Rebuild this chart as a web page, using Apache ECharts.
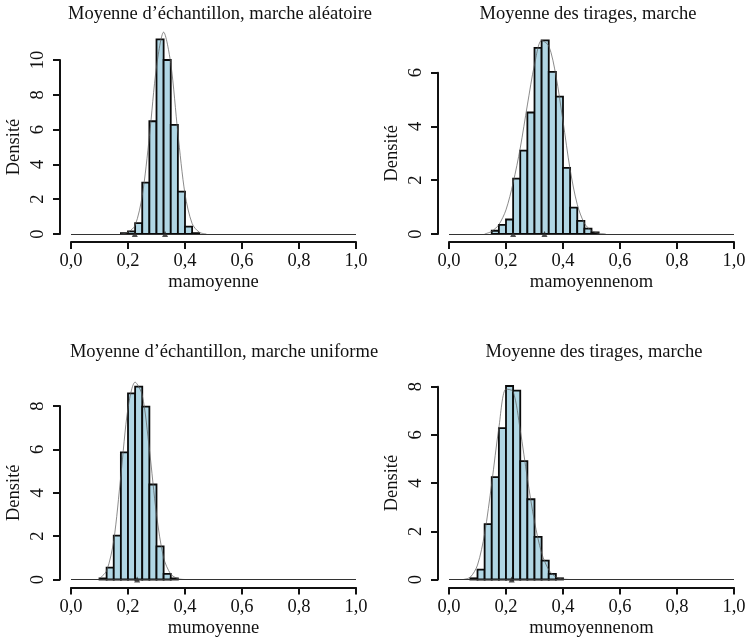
<!DOCTYPE html>
<html><head><meta charset="utf-8">
<script src="https://cdn.jsdelivr.net/npm/echarts@6/dist/echarts.min.js"></script>
<style>html,body{margin:0;padding:0;background:#fff}#c{width:749px;height:643px}</style>
</head><body><div id="c"></div>
<script>
// ---- data ----
const BIN = 0.025;
const titles = ["Moyenne d\u2019échantillon, marche aléatoire", "Moyenne des tirages, marche",
                "Moyenne d\u2019échantillon, marche uniforme", "Moyenne des tirages, marche"];
const xNames = ["mamoyenne", "mamoyennenom", "mumoyenne", "mumoyennenom"];
const xTicks = [0.0, 0.2, 0.4, 0.6, 0.8, 1.0];
const yMaxTick = [10, 6, 8, 8];

// panel 1
const bins1 = [0.175, 0.2, 0.225, 0.25, 0.275, 0.3, 0.325, 0.35, 0.375, 0.4, 0.425];
const dens1 = [0.05, 0.15, 0.63, 2.95, 6.48, 11.18, 10.0, 6.27, 2.44, 0.42, 0.05];
const curveX1 = [0.175, 0.2, 0.225, 0.25, 0.275, 0.3, 0.325, 0.35, 0.375, 0.4, 0.425, 0.45, 0.475];
const curveY1 = [0.0, 0.1, 0.5, 2.2, 5.6, 9.6, 11.6, 9.8, 5.8, 2.3, 0.6, 0.1, 0.0];
const marks1 = [0.224, 0.33];
// panel 2
const bins2 = [0.15, 0.175, 0.2, 0.225, 0.25, 0.275, 0.3, 0.325, 0.35, 0.375, 0.4, 0.425, 0.45, 0.475, 0.5];
const dens2 = [0.12, 0.34, 0.54, 2.06, 3.1, 4.52, 6.92, 7.2, 6.03, 5.11, 2.46, 0.98, 0.49, 0.2, 0.06];
const curveX2 = [0.125, 0.15, 0.175, 0.2, 0.225, 0.25, 0.275, 0.3, 0.325, 0.35, 0.375, 0.4, 0.425, 0.45, 0.475, 0.5, 0.525, 0.55];
const curveY2 = [0.0, 0.1, 0.35, 0.9, 1.9, 3.2, 4.8, 6.3, 7.2, 7.0, 5.9, 4.2, 2.4, 1.1, 0.4, 0.12, 0.03, 0.0];
const marks2 = [0.225, 0.335];
// panel 3
const bins3 = [0.1, 0.125, 0.15, 0.175, 0.2, 0.225, 0.25, 0.275, 0.3, 0.325, 0.35];
const dens3 = [0.05, 0.55, 2.02, 5.86, 8.58, 8.89, 7.97, 4.38, 1.53, 0.26, 0.05];
const curveX3 = [0.1, 0.125, 0.15, 0.175, 0.2, 0.225, 0.25, 0.275, 0.3, 0.325, 0.35, 0.375, 0.4];
const curveY3 = [0.05, 0.4, 1.8, 4.8, 7.9, 9.1, 8.5, 6.0, 3.0, 1.0, 0.25, 0.04, 0.0];
const marks3 = [0.232];
// panel 4
const bins4 = [0.075, 0.1, 0.125, 0.15, 0.175, 0.2, 0.225, 0.25, 0.275, 0.3, 0.325, 0.35, 0.375];
const dens4 = [0.05, 0.41, 2.3, 4.25, 6.28, 8.03, 7.84, 4.91, 3.33, 1.77, 0.78, 0.23, 0.05];
const curveX4 = [0.05, 0.075, 0.1, 0.125, 0.15, 0.175, 0.2, 0.225, 0.25, 0.275, 0.3, 0.325, 0.35, 0.375, 0.4, 0.425];
const curveY4 = [0.0, 0.1, 0.6, 1.9, 4.0, 6.3, 7.9, 7.8, 6.2, 4.2, 2.4, 1.1, 0.4, 0.1, 0.02, 0.0];
const marks4 = [0.22];

// ---- layout ----
const FONT = '"Liberation Serif", "DejaVu Serif", serif';
const FS = 18.5;
const grids = [
  {left: 71, top: 60, width: 285, height: 174},
  {left: 449, top: 72.7, width: 285, height: 161.3},
  {left: 71, top: 406, width: 285, height: 173.5},
  {left: 449, top: 386.7, width: 285, height: 192.8}
];
const titlePos = [[220, 5], [588, 5], [224, 343], [594, 343]];
const panels = [
  {bins: bins1, dens: dens1, cx: curveX1, cy: curveY1, marks: marks1},
  {bins: bins2, dens: dens2, cx: curveX2, cy: curveY2, marks: marks2},
  {bins: bins3, dens: dens3, cx: curveX3, cy: curveY3, marks: marks3},
  {bins: bins4, dens: dens4, cx: curveX4, cy: curveY4, marks: marks4}
];

function renderBar(params, api) {
  const x0 = api.value(0), h = api.value(1);
  const p0 = api.coord([x0, 0]);
  const p1 = api.coord([x0 + BIN, h]);
  return {
    type: 'rect',
    shape: {x: p0[0], y: p1[1], width: p1[0] - p0[0], height: p0[1] - p1[1]},
    style: {fill: '#b0d6e4', stroke: '#0a0a0a', lineWidth: 1.8}
  };
}

const option = {
  animation: false,
  backgroundColor: '#fff',
  title: titles.map((t, i) => ({
    text: t, left: titlePos[i][0], top: titlePos[i][1], textAlign: 'center', padding: 0,
    textStyle: {fontFamily: FONT, fontSize: FS, fontWeight: 'normal', color: '#111'}
  })),
  grid: grids.map(g => Object.assign({containLabel: false}, g)),
  xAxis: grids.map((g, i) => ({
    type: 'value', gridIndex: i, min: 0, max: 1, interval: 0.2,
    offset: 8,
    name: xNames[i], nameLocation: 'middle', nameGap: 31,
    nameTextStyle: {fontFamily: FONT, fontSize: FS, color: '#111'},
    axisLine: {onZero: false, lineStyle: {color: '#111', width: 2}},
    axisTick: {length: 7, lineStyle: {color: '#111', width: 2}},
    axisLabel: {fontFamily: FONT, fontSize: FS, color: '#111', margin: 10,
      formatter: v => v.toFixed(1).replace('.', ',')},
    splitLine: {show: false}
  })),
  yAxis: grids.map((g, i) => ({
    type: 'value', gridIndex: i, min: 0, max: yMaxTick[i], interval: 2,
    offset: 11,
    name: 'Densité', nameLocation: 'middle', nameGap: 36,
    nameTextStyle: {fontFamily: FONT, fontSize: FS, color: '#111'},
    axisLine: {show: true, onZero: false, lineStyle: {color: '#111', width: 2}},
    axisTick: {show: true, length: 7, lineStyle: {color: '#111', width: 2}},
    axisLabel: {fontFamily: FONT, fontSize: FS, color: '#111', rotate: 90, margin: 12},
    splitLine: {show: false}
  })),
  series: []
};

panels.forEach((p, i) => {
  option.series.push({
    type: 'custom', xAxisIndex: i, yAxisIndex: i, renderItem: renderBar, clip: false,
    data: p.bins.map((b, k) => [b, p.dens[k]]), z: 2
  });
  option.series.push({
    type: 'line', xAxisIndex: i, yAxisIndex: i, clip: false, symbol: 'none', smooth: 0.3,
    data: p.cx.map((x, k) => [x, p.cy[k]]),
    lineStyle: {color: 'rgba(90,90,90,0.7)', width: 1}, z: 3,
    markLine: {silent: true, symbol: 'none', label: {show: false},
      lineStyle: {color: '#333', width: 1.2, type: 'solid'}, data: [{yAxis: 0}]}
  });
  option.series.push({
    type: 'scatter', xAxisIndex: i, yAxisIndex: i, symbol: 'triangle', symbolSize: 6,
    itemStyle: {color: '#222'}, z: 4,
    data: p.marks.map(m => [m, 0])
  });
});

const chart = echarts.init(document.getElementById('c'), null, {renderer: 'canvas'});
chart.setOption(option);
</script></body></html>
